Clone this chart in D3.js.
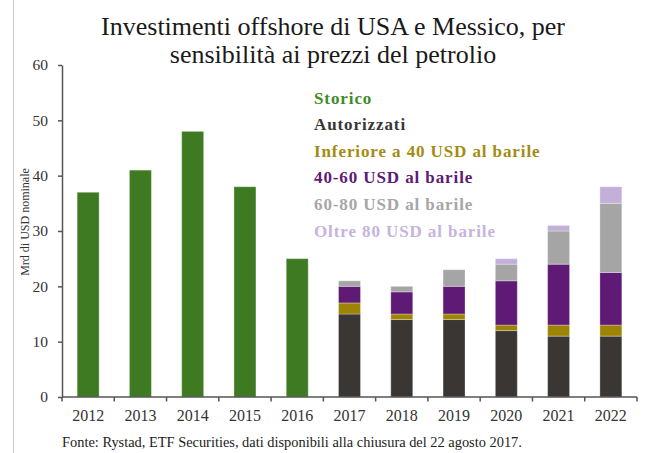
<!DOCTYPE html>
<html>
<head>
<meta charset="utf-8">
<script src="https://cdn.jsdelivr.net/npm/d3@7"></script>
<style>
  html, body { margin: 0; padding: 0; background: #ffffff; }
  svg { display: block; }
</style>
</head>
<body>
<svg id="chart" width="646" height="453"></svg>
<script>
// Offshore investment in the USA and Mexico, by oil-price sensitivity
const years = ["2012", "2013", "2014", "2015", "2016", "2017", "2018", "2019", "2020", "2021", "2022"];
const storico     = [37, 41, 48, 38, 25, 0, 0, 0, 0, 0, 0];
const autorizzati = [0, 0, 0, 0, 0, 15, 14, 14, 12, 11, 11];
const inferiore40 = [0, 0, 0, 0, 0, 2, 1, 1, 1, 2, 2];
const usd40_60    = [0, 0, 0, 0, 0, 3, 4, 5, 8, 11, 9.5];
const usd60_80    = [0, 0, 0, 0, 0, 1, 1, 3, 3, 6, 12.5];
const oltre80     = [0, 0, 0, 0, 0, 0, 0, 0, 1, 1, 3];
const yTicks = [0, 10, 20, 30, 40, 50, 60];

const seriesKeys = ["storico", "autorizzati", "inferiore40", "usd40_60", "usd60_80", "oltre80"];
const seriesLabels = ["Storico", "Autorizzati", "Inferiore a 40 USD al barile", "40-60 USD al barile", "60-80 USD al barile", "Oltre 80 USD al barile"];
const barColors  = ["#3e7a22", "#3a3634", "#9d8404", "#5e1a74", "#a4a5a4", "#c2b0d9"];
const textColors = ["#3f8a2a", "#3a3634", "#a38b12", "#5e1a74", "#a6a6a6", "#c4b4de"];

const table = years.map((yr, i) => ({
  year: yr,
  storico: storico[i],
  autorizzati: autorizzati[i],
  inferiore40: inferiore40[i],
  usd40_60: usd40_60[i],
  usd60_80: usd60_80[i],
  oltre80: oltre80[i]
}));

const svg = d3.select("#chart");
const serif = "'Liberation Serif', 'Times New Roman', serif";

const plotLeft = 62, plotRight = 637, plotTop = 65, plotBottom = 397;

const x = d3.scaleBand().domain(years).range([plotLeft, plotRight]).paddingInner(0.58).paddingOuter(0.29);
const y = d3.scaleLinear().domain([0, 60]).range([plotBottom, plotTop]);

// thin frame line on the left edge
svg.append("line").attr("x1", 13.5).attr("x2", 13.5).attr("y1", 0).attr("y2", 453)
  .attr("stroke", "#c9c9c9").attr("stroke-width", 1);

// title
const title = svg.append("text").attr("text-anchor", "middle")
  .attr("font-family", serif).attr("font-size", 26).attr("fill", "#1a1a1a");
title.append("tspan").attr("x", 333).attr("y", 35).text("Investimenti offshore di USA e Messico, per");
title.append("tspan").attr("x", 333).attr("y", 63).text("sensibilità ai prezzi del petrolio");

// stacked bars
const stacked = d3.stack().keys(seriesKeys)(table);
const color = d3.scaleOrdinal().domain(seriesKeys).range(barColors);

svg.append("g").selectAll("g").data(stacked).join("g")
  .attr("fill", d => color(d.key))
  .selectAll("rect").data(d => d.filter(s => s[1] - s[0] > 0)).join("rect")
  .attr("x", d => x(d.data.year))
  .attr("width", x.bandwidth())
  .attr("y", d => y(d[1]))
  .attr("height", d => y(d[0]) - y(d[1]))
  .attr("stroke", "#ffffff").attr("stroke-opacity", 0.3).attr("stroke-width", 1);

// y axis
const yAxis = svg.append("g").attr("transform", `translate(${plotLeft},0)`)
  .call(d3.axisLeft(y).tickValues(yTicks).tickSize(4).tickPadding(10).tickSizeOuter(0));
yAxis.select(".domain").attr("stroke", "#555").attr("stroke-width", 1.5);
yAxis.selectAll(".tick line").attr("stroke", "#555").attr("stroke-width", 1.5);
yAxis.selectAll(".tick text").attr("font-family", serif).attr("font-size", 15.5).attr("fill", "#333");

// x axis: ticks at the band boundaries, labels centred in each band
const xg = svg.append("g");
xg.append("line").attr("x1", plotLeft).attr("x2", plotRight).attr("y1", plotBottom).attr("y2", plotBottom)
  .attr("stroke", "#555").attr("stroke-width", 1.5);
const gap = (x.step() - x.bandwidth()) / 2;
const boundaries = years.map(d => x(d) - gap).concat([x(years[years.length - 1]) + x.bandwidth() + gap]);
xg.selectAll("line.tk").data(boundaries).join("line").attr("class", "tk")
  .attr("x1", d => d).attr("x2", d => d).attr("y1", plotBottom).attr("y2", plotBottom + 4.5)
  .attr("stroke", "#555").attr("stroke-width", 1.5);
xg.selectAll("text").data(years).join("text")
  .attr("x", d => x(d) + x.bandwidth() / 2).attr("y", 421)
  .attr("text-anchor", "middle").attr("font-family", serif).attr("font-size", 16).attr("fill", "#333")
  .text(d => d);

// y axis title
svg.append("text").attr("transform", "translate(29,222) rotate(-90)")
  .attr("text-anchor", "middle").attr("font-family", serif).attr("font-size", 12).attr("fill", "#333")
  .text("Mrd di USD nominale");

// legend
svg.append("g").selectAll("text").data(seriesLabels).join("text")
  .attr("x", 314).attr("y", (d, i) => 103.5 + i * 26.6)
  .attr("font-family", serif).attr("font-weight", "bold").attr("font-size", 17)
  .attr("letter-spacing", 0.9)
  .attr("fill", (d, i) => textColors[i])
  .text(d => d);

// source note
svg.append("text").attr("x", 62).attr("y", 447)
  .attr("font-family", serif).attr("font-size", 14.4).attr("fill", "#222")
  .text("Fonte: Rystad, ETF Securities, dati disponibili alla chiusura del 22 agosto 2017.");
</script>
</body>
</html>
